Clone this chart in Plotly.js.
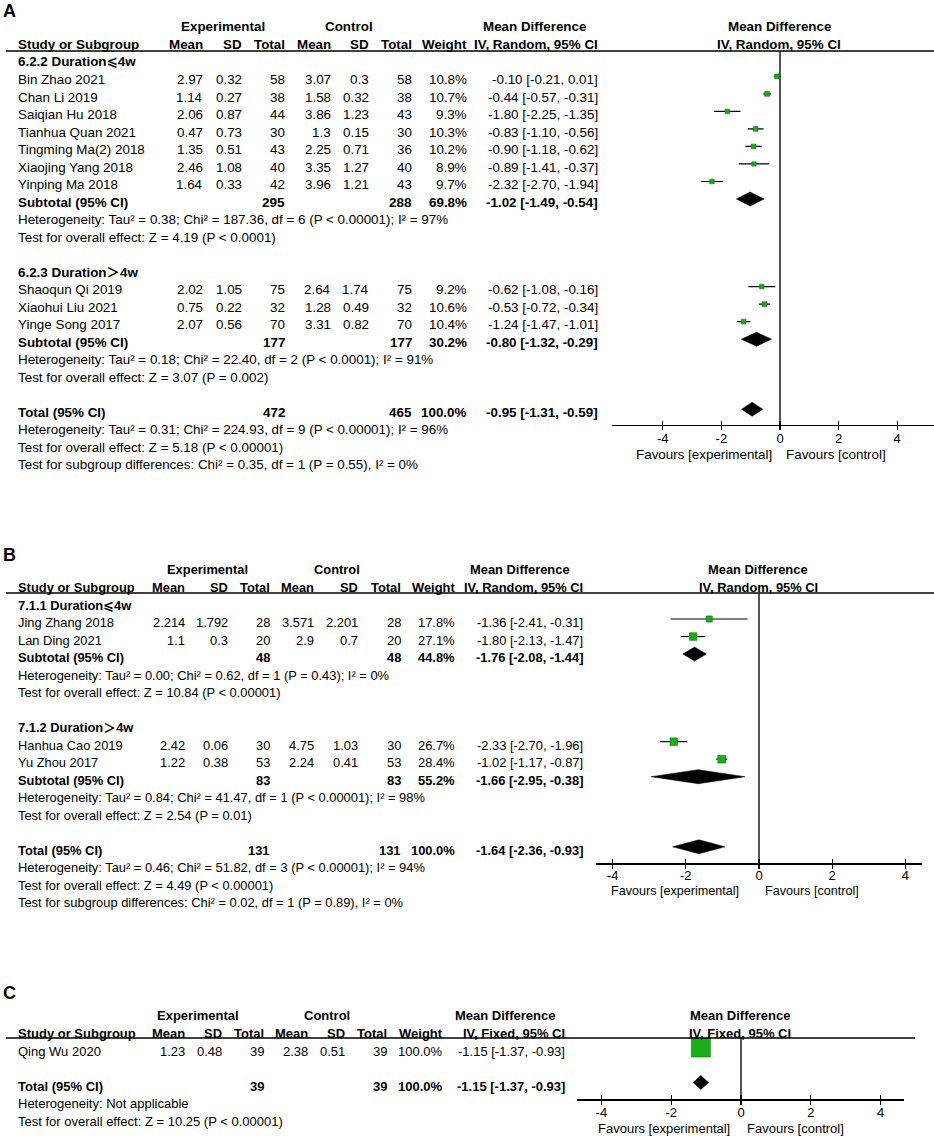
<!DOCTYPE html>
<html><head><meta charset="utf-8">
<script src="https://cdn.plot.ly/plotly-3.0.1.min.js"></script>
<style>html,body{margin:0;padding:0;background:#fff;}#chart{width:934px;height:1140px;}</style>
</head><body><div id="chart"></div>
<script>
// ================= DATA =================
// ---- Panel A ----
const A_subgroups = ["6.2.2 Duration⩽4w", "6.2.3 Duration＞4w"];
const A_studies = ["Bin Zhao 2021", "Chan Li 2019", "Saiqian Hu 2018", "Tianhua Quan 2021", "Tingming Ma(2) 2018", "Xiaojing Yang 2018", "Yinping Ma 2018", "Shaoqun Qi 2019", "Xiaohui Liu 2021", "Yinge Song 2017"];
const A_group   = [0, 0, 0, 0, 0, 0, 0, 1, 1, 1];
const A_expMean = [2.97, 1.14, 2.06, 0.47, 1.35, 2.46, 1.64, 2.02, 0.75, 2.07];
const A_expSD   = [0.32, 0.27, 0.87, 0.73, 0.51, 1.08, 0.33, 1.05, 0.22, 0.56];
const A_expN    = [58, 38, 44, 30, 43, 40, 42, 75, 32, 70];
const A_ctlMean = [3.07, 1.58, 3.86, 1.3, 2.25, 3.35, 3.96, 2.64, 1.28, 3.31];
const A_ctlSD   = [0.3, 0.32, 1.23, 0.15, 0.71, 1.27, 1.21, 1.74, 0.49, 0.82];
const A_ctlN    = [58, 38, 43, 30, 36, 40, 43, 75, 32, 70];
const A_weight  = [10.8, 10.7, 9.3, 10.3, 10.2, 8.9, 9.7, 9.2, 10.6, 10.4];
const A_md      = [-0.10, -0.44, -1.80, -0.83, -0.90, -0.89, -2.32, -0.62, -0.53, -1.24];
const A_lo      = [-0.21, -0.57, -2.25, -1.10, -1.18, -1.41, -2.70, -1.08, -0.72, -1.47];
const A_hi      = [0.01, -0.31, -1.35, -0.56, -0.62, -0.37, -1.94, -0.16, -0.34, -1.01];
const A_subExpN = [295, 177];
const A_subCtlN = [288, 177];
const A_subW    = [69.8, 30.2];
const A_subMd   = [-1.02, -0.80];
const A_subLo   = [-1.49, -1.32];
const A_subHi   = [-0.54, -0.29];
const A_subHet  = ["Heterogeneity: Tau² = 0.38; Chi² = 187.36, df = 6 (P < 0.00001); I² = 97%",
                   "Heterogeneity: Tau² = 0.18; Chi² = 22.40, df = 2 (P < 0.0001); I² = 91%"];
const A_subTest = ["Test for overall effect: Z = 4.19 (P < 0.0001)",
                   "Test for overall effect: Z = 3.07 (P = 0.002)"];
const A_total   = {expN: 472, ctlN: 465, w: 100.0, md: -0.95, lo: -1.31, hi: -0.59};
const A_notes   = ["Heterogeneity: Tau² = 0.31; Chi² = 224.93, df = 9 (P < 0.00001); I² = 96%",
                   "Test for overall effect: Z = 5.18 (P < 0.00001)",
                   "Test for subgroup differences: Chi² = 0.35, df = 1 (P = 0.55), I² = 0%"];

// ---- Panel B ----
const B_subgroups = ["7.1.1 Duration⩽4w", "7.1.2 Duration＞4w"];
const B_studies = ["Jing Zhang 2018", "Lan Ding 2021", "Hanhua Cao 2019", "Yu Zhou 2017"];
const B_group   = [0, 0, 1, 1];
const B_expMean = [2.214, 1.1, 2.42, 1.22];
const B_expSD   = [1.792, 0.3, 0.06, 0.38];
const B_expN    = [28, 20, 30, 53];
const B_ctlMean = [3.571, 2.9, 4.75, 2.24];
const B_ctlSD   = [2.201, 0.7, 1.03, 0.41];
const B_ctlN    = [28, 20, 30, 53];
const B_weight  = [17.8, 27.1, 26.7, 28.4];
const B_md      = [-1.36, -1.80, -2.33, -1.02];
const B_lo      = [-2.41, -2.13, -2.70, -1.17];
const B_hi      = [-0.31, -1.47, -1.96, -0.87];
const B_subExpN = [48, 83];
const B_subCtlN = [48, 83];
const B_subW    = [44.8, 55.2];
const B_subMd   = [-1.76, -1.66];
const B_subLo   = [-2.08, -2.95];
const B_subHi   = [-1.44, -0.38];
const B_subHet  = ["Heterogeneity: Tau² = 0.00; Chi² = 0.62, df = 1 (P = 0.43); I² = 0%",
                   "Heterogeneity: Tau² = 0.84; Chi² = 41.47, df = 1 (P < 0.00001); I² = 98%"];
const B_subTest = ["Test for overall effect: Z = 10.84 (P < 0.00001)",
                   "Test for overall effect: Z = 2.54 (P = 0.01)"];
const B_total   = {expN: 131, ctlN: 131, w: 100.0, md: -1.64, lo: -2.36, hi: -0.93};
const B_notes   = ["Heterogeneity: Tau² = 0.46; Chi² = 51.82, df = 3 (P < 0.00001); I² = 94%",
                   "Test for overall effect: Z = 4.49 (P < 0.00001)",
                   "Test for subgroup differences: Chi² = 0.02, df = 1 (P = 0.89), I² = 0%"];

// ---- Panel C ----
const C_studies = ["Qing Wu 2020"];
const C_group   = [0];
const C_expMean = [1.23];
const C_expSD   = [0.48];
const C_expN    = [39];
const C_ctlMean = [2.38];
const C_ctlSD   = [0.51];
const C_ctlN    = [39];
const C_weight  = [100.0];
const C_md      = [-1.15];
const C_lo      = [-1.37];
const C_hi      = [-0.93];
const C_total   = {expN: 39, ctlN: 39, w: 100.0, md: -1.15, lo: -1.37, hi: -0.93};
const C_notes   = ["Heterogeneity: Not applicable",
                   "Test for overall effect: Z = 10.25 (P < 0.00001)"];

// ---- shared labels ----
const HEADER_COLS = ["Mean", "SD", "Total", "Mean", "SD", "Total", "Weight"];
const TICK_VALUES = [-4, -2, 0, 2, 4];
const TICK_LABELS = ["-4", "-2", "0", "2", "4"];
const FAVOURS = ["Favours [experimental]", "Favours [control]"];

// ================= STYLE / GEOMETRY =================
const W = 934, H = 1140;
const FONT = "Liberation Sans, Arial, DejaVu Sans, Noto Sans CJK SC, sans-serif";
const GREEN = "#18b018";

const GEO_A = {top0: 62, step: 17.52, font: 13.4, tickFont: 13, favFont: 13.4, labelRow: -2.92, labelFont: 18,
  lineRow: -0.63, lineLeft: 6, lineRight: 934, axisOff: 0.7, favOff: 2.43, markShift: 0.18, dh: 0.4, sqScale: 1.45,
  tickStand: -3,
  cols: {name: 17, mean: 204, sd: 243, n: 286, cmean: 332, csd: 370, cn: 413, w: 468, ci: 599, expC: 223, ctlC: 349, mdC: 534},
  forestC: 779, forest: {left: 612, right: 934, zero: 780, unit: 29.3}, favExpRight: 773, favCtlLeft: 785};
const GEO_B = {top0: 605, step: 17.52, font: 12.9, tickFont: 13, favFont: 12.6, labelRow: -2.85, labelFont: 18,
  lineRow: -0.68, lineLeft: 6, lineRight: 934, axisOff: 0.73, favOff: 2.34, markShift: 0.2, dh: 0.4, sqScale: 1.45,
  tickStand: -4,
  cols: {name: 17, mean: 186, sd: 229, n: 271, cmean: 315, csd: 359, cn: 402, w: 456, ci: 584, expC: 207, ctlC: 337, mdC: 520},
  forestC: 758, forest: {left: 596, right: 922, zero: 759, unit: 36.6}, favExpRight: 740, favCtlLeft: 764};
const GEO_C = {top0: 1051, step: 17.52, font: 13, tickFont: 13, favFont: 13, labelRow: -3.31, labelFont: 18,
  lineRow: -0.74, lineLeft: 6, lineRight: 915, axisOff: 0.74, favOff: 2.42, markShift: 0.2, dh: 0.4, sqScale: 1.9,
  tickStand: -3,
  cols: {name: 17, mean: 186, sd: 223, n: 265, cmean: 309, csd: 346, cn: 388, w: 444, ci: 566, expC: 198, ctlC: 327, mdC: 505},
  forestC: 740, forest: {left: 577, right: 904, zero: 741, unit: 34.9}, favExpRight: 731, favCtlLeft: 746};

// ================= BUILD =================
const annotations = [], shapes = [], traces = [];
const layout = {width: W, height: H, margin: {l: 0, r: 0, t: 0, b: 0, pad: 0},
  paper_bgcolor: '#ffffff', plot_bgcolor: 'rgba(0,0,0,0)', showlegend: false,
  annotations: annotations, shapes: shapes, hovermode: false};

function esc(s) { return String(s).replace(/&/g, '&amp;').replace(/</g, '&lt;').replace(/>/g, '&gt;'); }
function ciText(m, l, h) { return m.toFixed(2) + ' [' + l.toFixed(2) + ', ' + h.toFixed(2) + ']'; }

function makePanel(idx, P, G) {
  const sfx = idx === 1 ? '' : String(idx);
  const xa = 'x' + sfx, ya = 'y' + sfx;
  const rowPix = r => G.top0 + r * G.step;
  const pX = px => px / W;
  const pY = r => 1 - rowPix(r) / H;
  const C = G.cols;
  function txt(px, r, text, anchor, bold, size) {
    annotations.push({xref: 'paper', yref: 'paper', x: pX(px), y: pY(r), xanchor: anchor, yanchor: 'middle',
      text: bold ? '<b>' + esc(text) + '</b>' : esc(text), showarrow: false, borderpad: 0,
      font: {family: FONT, size: size || G.font, color: '#000'}});
  }
  function diamond(m, l, h, r) {
    const y = r - G.markShift;
    traces.push({type: 'scatter', mode: 'lines', x: [l, m, h, m, l], y: [y, y - G.dh, y, y + G.dh, y],
      fill: 'toself', fillcolor: '#000', line: {color: '#000', width: 0.5}, xaxis: xa, yaxis: ya,
      hoverinfo: 'skip', cliponaxis: false});
  }
  function summaryLine(label, r, en, cn, w, m, l, h) {
    txt(C.name, r, label, 'left', true);
    txt(C.n, r, en, 'right', true);
    txt(C.cn, r, cn, 'right', true);
    txt(C.w, r, w.toFixed(1) + '%', 'right', true);
    txt(C.ci, r, ciText(m, l, h), 'right', true);
    diamond(m, l, h, r);
  }

  // panel letter and headers
  txt(2, G.labelRow, P.letter, 'left', true, G.labelFont);
  txt(C.expC, -2, 'Experimental', 'center', true);
  txt(C.ctlC, -2, 'Control', 'center', true);
  txt(C.mdC, -2, 'Mean Difference', 'center', true);
  txt(G.forestC, -2, 'Mean Difference', 'center', true);
  txt(C.name, -1, 'Study or Subgroup', 'left', true);
  const hx = [C.mean, C.sd, C.n, C.cmean, C.csd, C.cn, C.w];
  HEADER_COLS.forEach((h, k) => txt(hx[k], -1, h, 'right', true));
  txt(C.ci, -1, P.method, 'right', true);
  txt(G.forestC, -1, P.method, 'center', true);

  // rows
  const studyRow = [];
  let r = 0;
  const groups = P.subgroups ? P.subgroups.map((_, g) => g) : [null];
  groups.forEach(g => {
    if (g !== null) { txt(C.name, r, P.subgroups[g], 'left', true); r++; }
    P.studies.forEach((s, i) => {
      if (g !== null && P.group[i] !== g) return;
      studyRow[i] = r;
      txt(C.name, r, s, 'left');
      txt(C.mean, r, String(P.expMean[i]), 'right');
      txt(C.sd, r, String(P.expSD[i]), 'right');
      txt(C.n, r, String(P.expN[i]), 'right');
      txt(C.cmean, r, String(P.ctlMean[i]), 'right');
      txt(C.csd, r, String(P.ctlSD[i]), 'right');
      txt(C.cn, r, String(P.ctlN[i]), 'right');
      txt(C.w, r, P.weight[i].toFixed(1) + '%', 'right');
      txt(C.ci, r, ciText(P.md[i], P.lo[i], P.hi[i]), 'right');
      r++;
    });
    if (g !== null) {
      summaryLine('Subtotal (95% CI)', r, P.subExpN[g], P.subCtlN[g], P.subW[g], P.subMd[g], P.subLo[g], P.subHi[g]);
      txt(C.name, r + 1, P.subHet[g], 'left');
      txt(C.name, r + 2, P.subTest[g], 'left');
      r += 3;
    }
    r++; // blank line
  });
  const totalRow = r;
  const T = P.total;
  summaryLine('Total (95% CI)', totalRow, T.expN, T.ctlN, T.w, T.md, T.lo, T.hi);
  P.notes.forEach((t, k) => txt(C.name, totalRow + 1 + k, t, 'left'));

  // CI whiskers (drawn first), then study squares on top
  const wx = [], wy = [];
  P.md.forEach((m, i) => {
    const y = studyRow[i] - G.markShift;
    wx.push(P.lo[i], P.hi[i], null);
    wy.push(y, y, null);
  });
  traces.push({type: 'scatter', mode: 'lines', x: wx, y: wy, xaxis: xa, yaxis: ya, connectgaps: false,
    line: {color: '#000', width: 1.2}, hoverinfo: 'skip', cliponaxis: false});
  traces.push({type: 'scatter', mode: 'markers', x: P.md, y: studyRow.map(v => v - G.markShift),
    xaxis: xa, yaxis: ya, hoverinfo: 'skip', cliponaxis: false, opacity: 1,
    marker: {symbol: 'square', size: P.weight.map(w => G.sqScale * Math.sqrt(w)), color: GREEN, opacity: 1,
      line: {color: '#0d700d', width: 0.6}}});

  // header rule
  shapes.push({type: 'line', xref: 'paper', yref: 'paper', x0: pX(G.lineLeft), x1: pX(G.lineRight),
    y0: pY(G.lineRow), y1: pY(G.lineRow), line: {color: '#000', width: 1.5}});

  // axes
  const axisRow = totalRow + G.axisOff;
  const F = G.forest;
  const xr = [(F.left - F.zero) / F.unit, (F.right - F.zero) / F.unit];
  layout['yaxis' + sfx] = {domain: [pY(axisRow), pY(G.lineRow)], range: [axisRow, G.lineRow],
    visible: false, fixedrange: true};
  layout['xaxis' + sfx] = {domain: [pX(F.left), pX(F.right)], range: xr, anchor: ya,
    showline: true, linecolor: '#000', linewidth: 1.5, ticks: 'outside', ticklen: 4, tickwidth: 1.3, tickcolor: '#000',
    tickmode: 'array', tickvals: TICK_VALUES, ticktext: TICK_LABELS, ticklabelstandoff: G.tickStand,
    tickfont: {family: FONT, size: G.tickFont, color: '#000'}, showgrid: false,
    zeroline: true, zerolinecolor: '#555', zerolinewidth: 1.5, fixedrange: true};
  const ov = String(idx + 3);
  layout['xaxis' + ov] = {overlaying: xa, anchor: ya, domain: [pX(F.left), pX(F.right)], range: xr,
    ticks: 'inside', ticklen: 4, tickwidth: 1.3, tickcolor: '#000', tickmode: 'array', tickvals: TICK_VALUES,
    showticklabels: false, showline: false, showgrid: false, zeroline: false, fixedrange: true};
  traces.push({type: 'scatter', mode: 'markers', x: [0], y: [axisRow], xaxis: 'x' + ov, yaxis: ya,
    marker: {size: 0, opacity: 0}, hoverinfo: 'skip'});

  // favours labels
  txt(G.favExpRight, totalRow + G.favOff, FAVOURS[0], 'right', false, G.favFont);
  txt(G.favCtlLeft, totalRow + G.favOff, FAVOURS[1], 'left', false, G.favFont);
}

makePanel(1, {letter: 'A', method: 'IV, Random, 95% CI', subgroups: A_subgroups, studies: A_studies, group: A_group,
  expMean: A_expMean, expSD: A_expSD, expN: A_expN, ctlMean: A_ctlMean, ctlSD: A_ctlSD, ctlN: A_ctlN,
  weight: A_weight, md: A_md, lo: A_lo, hi: A_hi, subExpN: A_subExpN, subCtlN: A_subCtlN, subW: A_subW,
  subMd: A_subMd, subLo: A_subLo, subHi: A_subHi, subHet: A_subHet, subTest: A_subTest,
  total: A_total, notes: A_notes}, GEO_A);
makePanel(2, {letter: 'B', method: 'IV, Random, 95% CI', subgroups: B_subgroups, studies: B_studies, group: B_group,
  expMean: B_expMean, expSD: B_expSD, expN: B_expN, ctlMean: B_ctlMean, ctlSD: B_ctlSD, ctlN: B_ctlN,
  weight: B_weight, md: B_md, lo: B_lo, hi: B_hi, subExpN: B_subExpN, subCtlN: B_subCtlN, subW: B_subW,
  subMd: B_subMd, subLo: B_subLo, subHi: B_subHi, subHet: B_subHet, subTest: B_subTest,
  total: B_total, notes: B_notes}, GEO_B);
makePanel(3, {letter: 'C', method: 'IV, Fixed, 95% CI', subgroups: null, studies: C_studies, group: C_group,
  expMean: C_expMean, expSD: C_expSD, expN: C_expN, ctlMean: C_ctlMean, ctlSD: C_ctlSD, ctlN: C_ctlN,
  weight: C_weight, md: C_md, lo: C_lo, hi: C_hi, total: C_total, notes: C_notes}, GEO_C);

Plotly.newPlot('chart', traces, layout, {staticPlot: true, displayModeBar: false});
</script>
</body></html>
